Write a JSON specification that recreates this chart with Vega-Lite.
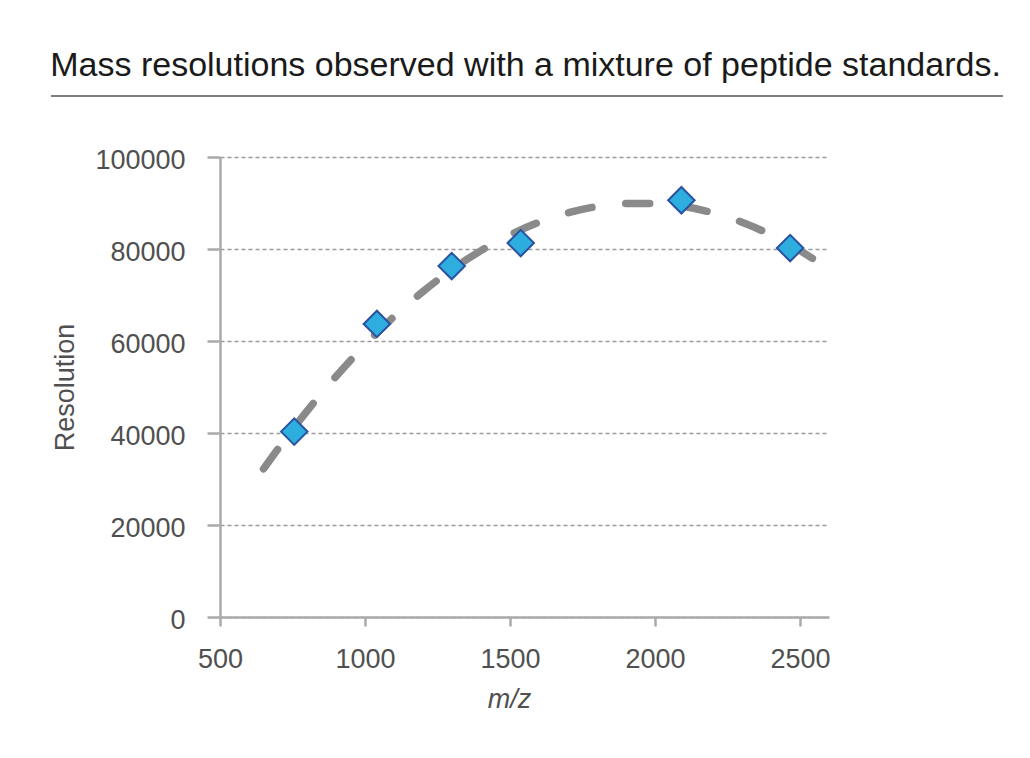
{
  "$schema": "https://vega.github.io/schema/vega-lite/v6.json",
  "padding": {"left": 50, "top": 49, "right": 10, "bottom": 10},
  "background": "white",
  "title": {
    "text": "Mass resolutions observed with a mixture of peptide standards.",
    "anchor": "start",
    "frame": "bounds",
    "font": "Liberation Sans",
    "fontSize": 34,
    "fontWeight": "normal",
    "color": "#1a1a1a",
    "offset": 12
  },
  "datasets": {
    "points": [
      {"mz": 756, "res": 40300},
      {"mz": 1041, "res": 63700},
      {"mz": 1299, "res": 76300},
      {"mz": 1537, "res": 81300},
      {"mz": 2091, "res": 90600},
      {"mz": 2466, "res": 80200}
    ],
    "curve": [
      {"mz": 650, "res": 32200},
      {"mz": 700, "res": 36560},
      {"mz": 800, "res": 44770},
      {"mz": 900, "res": 52290},
      {"mz": 1000, "res": 59130},
      {"mz": 1100, "res": 65290},
      {"mz": 1200, "res": 70760},
      {"mz": 1300, "res": 75550},
      {"mz": 1400, "res": 79650},
      {"mz": 1500, "res": 83070},
      {"mz": 1600, "res": 85810},
      {"mz": 1700, "res": 87860},
      {"mz": 1800, "res": 89230},
      {"mz": 1900, "res": 89910},
      {"mz": 2000, "res": 89910},
      {"mz": 2100, "res": 89230},
      {"mz": 2200, "res": 87860},
      {"mz": 2300, "res": 85810},
      {"mz": 2400, "res": 83070},
      {"mz": 2500, "res": 79650},
      {"mz": 2580, "res": 76430}
    ],
    "header": [{"start": 0, "end": 1, "level": 0}]
  },
  "width": 609,
  "height": 460,
  "layer": [
    {
      "layer": [
        {
          "data": {"name": "curve"},
          "mark": {"type": "line", "color": "#8a8a8a", "strokeWidth": 7.5, "strokeDash": [24, 34], "strokeCap": "round", "interpolate": "monotone"},
          "encoding": {
            "x": {"field": "mz", "type": "quantitative"},
            "y": {"field": "res", "type": "quantitative"}
          }
        },
        {
          "data": {"name": "points"},
          "mark": {"type": "point", "shape": "diamond", "filled": true, "size": 700, "fill": "#2eaede", "stroke": "#2a52a0", "strokeWidth": 2, "opacity": 1},
          "encoding": {
            "x": {"field": "mz", "type": "quantitative"},
            "y": {"field": "res", "type": "quantitative"}
          }
        }
      ],
      "encoding": {
        "x": {
          "field": "mz", "type": "quantitative",
          "scale": {"domain": [500, 2600], "nice": false, "zero": false},
          "axis": {
            "orient": "bottom",
            "title": "m/z",
            "values": [500, 1000, 1500, 2000, 2500],
            "format": "d",
            "grid": false,
            "labelFlush": false,
            "titleFontStyle": "italic",
            "titleX": 289
          }
        },
        "y": {
          "field": "res", "type": "quantitative",
          "scale": {"domain": [0, 100000], "nice": false},
          "axis": {
            "orient": "left",
            "title": "Resolution",
            "values": [0, 20000, 40000, 60000, 80000, 100000],
            "format": "d",
            "grid": true,
            "labelFlush": false,
            "labelOffset": 3,
            "tickSize": 13,
            "labelPadding": 22,
            "titlePadding": 15
          }
        }
      }
    },
    {
      "data": {"name": "header"},
      "mark": {"type": "rule", "color": "#555555", "strokeWidth": 1.5},
      "encoding": {
        "x": {"field": "start", "type": "quantitative", "scale": {"domain": [0, 1], "range": [-169, 783]}, "axis": null},
        "x2": {"field": "end"},
        "y": {"field": "level", "type": "quantitative", "scale": {"domain": [0, 1], "range": [-61, -62]}, "axis": null}
      }
    }
  ],
  "resolve": {"scale": {"x": "independent", "y": "independent"}, "axis": {"x": "independent", "y": "independent"}},
  "config": {
    "view": {"stroke": null},
    "axis": {
      "labelFont": "Liberation Sans",
      "titleFont": "Liberation Sans",
      "labelFontSize": 27,
      "titleFontSize": 27,
      "titleFontWeight": "normal",
      "labelColor": "#505050",
      "titleColor": "#505050",
      "domainColor": "#aaaaaa",
      "domainWidth": 2.5,
      "tickColor": "#aaaaaa",
      "tickWidth": 2.5,
      "gridColor": "#9a9a9a",
      "gridDash": [4, 3],
      "gridWidth": 1.5
    },
    "axisX": {"tickSize": 9, "labelPadding": 20, "titlePadding": 14}
  }
}
